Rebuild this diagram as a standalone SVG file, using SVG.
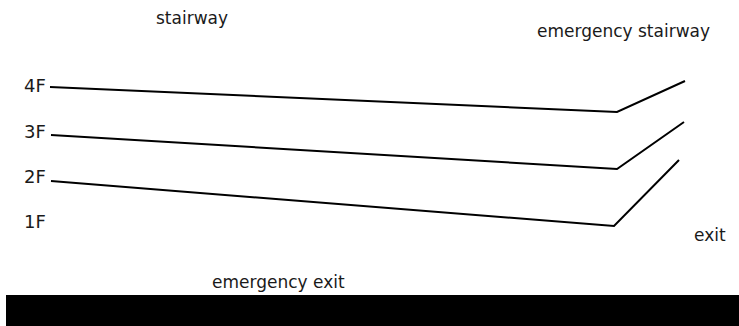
<svg xmlns="http://www.w3.org/2000/svg" width="739" height="326" viewBox="0 0 739 326">
<style>
.t{font-family:"DejaVu Sans",sans-serif;font-size:17px;fill:#1a1a1a}
.f{font-size:18px}
.ln{fill:none;stroke:#000;stroke-width:2}
</style>
<rect width="739" height="326" fill="#fff"/>
<g id="label-stairway"><text class="t" x="156" y="24">stairway</text></g>
<g id="label-emergency-stairway"><text class="t" x="537" y="37">emergency stairway</text></g>
<g id="floor-4F"><text class="t f" x="24" y="92">4F</text></g>
<g id="floor-3F"><text class="t f" x="24" y="138">3F</text></g>
<g id="floor-2F"><text class="t f" x="24" y="183">2F</text></g>
<g id="floor-1F"><text class="t f" x="24" y="228">1F</text></g>
<g id="label-exit"><text class="t" x="694" y="241">exit</text></g>
<g id="emergency-exit"><text class="t" x="212" y="288">emergency exit</text><rect x="6" y="295" width="733" height="31" fill="#000"/></g>
<g id="connectors">
<polyline class="ln" points="50,87 617,112 685,81"/>
<polyline class="ln" points="51,135 617,169 684,122"/>
<polyline class="ln" points="51,181 614,226 679,160"/>
</g>
</svg>
